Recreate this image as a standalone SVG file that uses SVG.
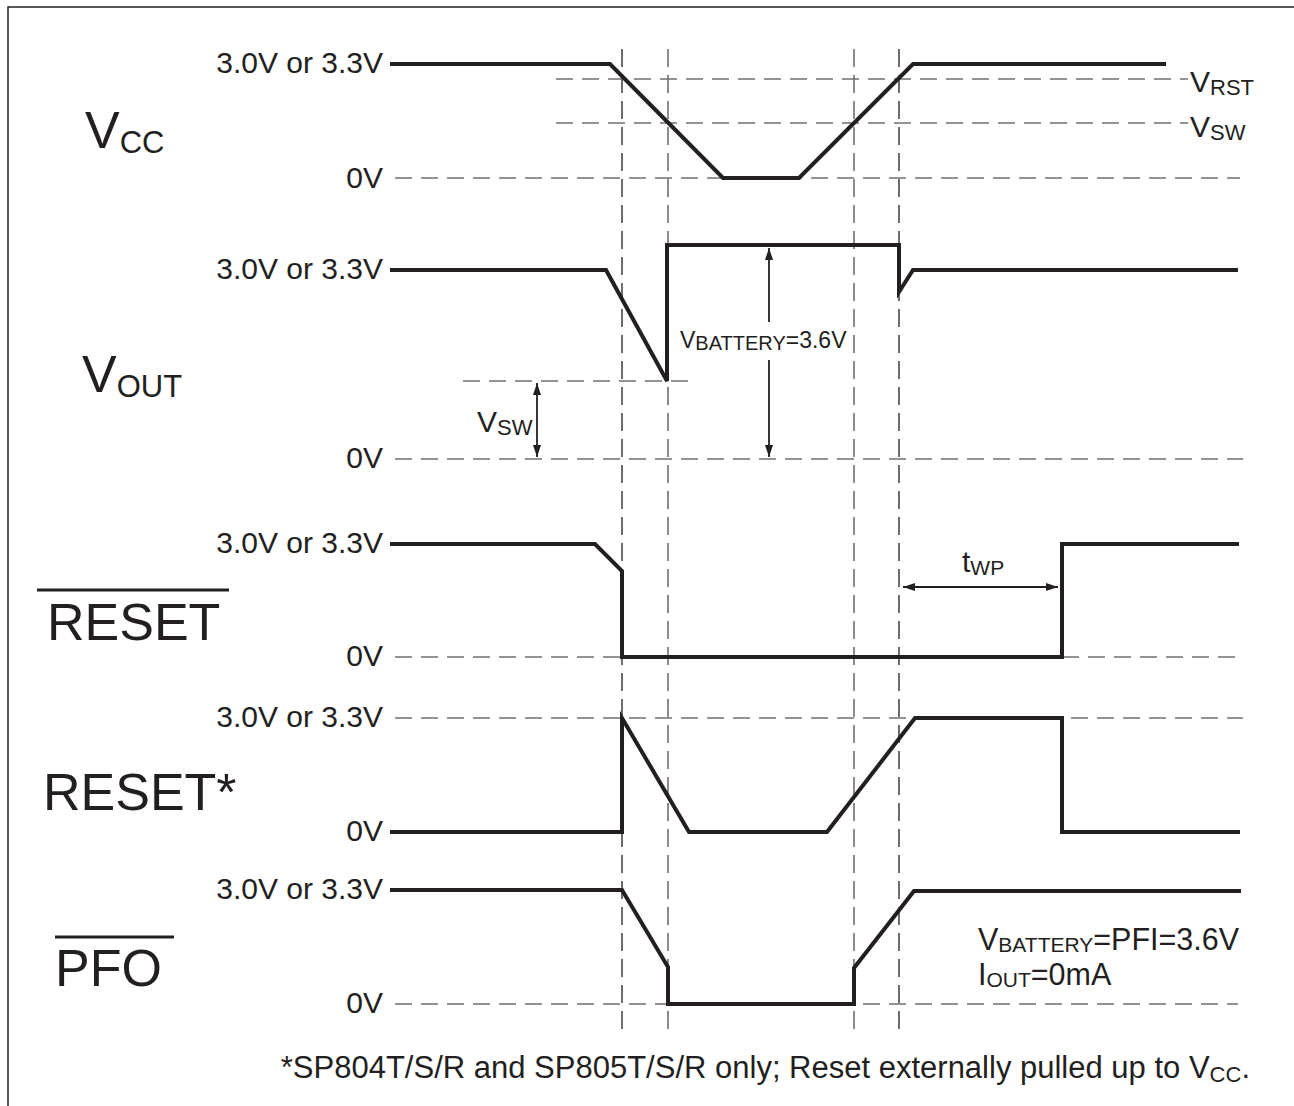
<svg xmlns="http://www.w3.org/2000/svg" width="1294" height="1106" viewBox="0 0 1294 1106">
<defs>
<marker id="ah" viewBox="0 0 12 8" refX="12" refY="4" markerWidth="12" markerHeight="8" orient="auto-start-reverse" markerUnits="userSpaceOnUse"><path d="M0,0 L12,4 L0,8 z" fill="#231f20"/></marker>
<style>
.sig{fill:none;stroke:#231f20;stroke-width:4;stroke-linejoin:miter}
.dash{fill:none;stroke:#707070;stroke-width:1.6;stroke-dasharray:17 9}
.vd{fill:none;stroke:#4a4a4a;stroke-width:1.6;stroke-dasharray:18 8}
.vl{stroke:#707070}
.t{font-family:"Liberation Sans",Arial,sans-serif;fill:#231f20}
.lv{font-size:30px;text-anchor:end}
.big{font-size:52px}
.arr{stroke:#231f20;stroke-width:1.8;fill:none}
.ol{fill:#231f20}
</style>
</defs>
<rect width="1294" height="1106" fill="#fff"/>
<path d="M8,1106 V7 H1294" stroke="#231f20" stroke-width="1.5" fill="none"/>

<g id="guides">
<path class="vd" d="M622,49 V1030"/>
<path class="vd vl" d="M668,49 V1030"/>
<path class="vd vl" d="M854,49 V1030"/>
<path class="vd" d="M899,49 V1030"/>
</g>

<g id="vcc">
<text class="t big" x="85" y="148">V<tspan font-size="31" dy="5">CC</tspan></text>
<text class="t lv" x="383" y="73">3.0V or 3.3V</text>
<text class="t lv" x="383" y="188">0V</text>
<path class="dash" d="M395,178 H1240"/>
<path class="dash" d="M556,79 H1188"/>
<path class="dash" d="M556,123 H1188"/>
<path class="sig" d="M390,64 H610 L723,178 H799 L913,64 H1166"/>
<text class="t" x="1190" y="92" font-size="30">V<tspan font-size="22" dy="3">RST</tspan></text>
<text class="t" x="1190" y="137" font-size="30">V<tspan font-size="22" dy="3">SW</tspan></text>
</g>

<g id="vout">
<text class="t big" x="82" y="392">V<tspan font-size="31" dy="5">OUT</tspan></text>
<text class="t lv" x="383" y="279">3.0V or 3.3V</text>
<text class="t lv" x="383" y="468">0V</text>
<path class="dash" d="M395,459 H1243"/>
<path class="dash" d="M463,381 H695"/>
<path class="sig" d="M390,270 H606 L667,381 V245 H899 V292 L913,270 H1238"/>
<path class="arr" d="M537,395 V383" marker-end="url(#ah)"/>
<path class="arr" d="M537,395 V457" marker-end="url(#ah)"/>
<text class="t" x="477" y="432" font-size="30">V<tspan font-size="22" dy="3">SW</tspan></text>
<path class="arr" d="M769,322 V248" marker-end="url(#ah)"/>
<path class="arr" d="M769,360 V457" marker-end="url(#ah)"/>
<text class="t" x="680" y="348" font-size="23">V<tspan font-size="20" dy="2">BATTERY</tspan><tspan dy="-2">=3.6V</tspan></text>
</g>

<g id="reset-bar">
<rect class="ol" x="37" y="588.5" width="192" height="3"/>
<text class="t big" x="47" y="640">RESET</text>
<text class="t lv" x="383" y="553">3.0V or 3.3V</text>
<text class="t lv" x="383" y="666">0V</text>
<path class="dash" d="M395,657 H622"/>
<path class="dash" d="M1062,657 H1243"/>
<path class="sig" d="M390,544 H595 L622,571 V657 H1062 V544 H1239"/>
<path class="arr" d="M980,587 H903" marker-end="url(#ah)"/>
<path class="arr" d="M980,587 H1058" marker-end="url(#ah)"/>
<text class="t" x="962" y="572" font-size="30">t<tspan font-size="21" dy="3">WP</tspan></text>
</g>

<g id="reset-star">
<text class="t big" x="43" y="810">RESET*</text>
<text class="t lv" x="383" y="727">3.0V or 3.3V</text>
<text class="t lv" x="383" y="841">0V</text>
<path class="dash" d="M395,718 H1243"/>
<path class="sig" d="M390,832 H622 V718 L689,832 H827 L915,718 H1062 V832 H1240"/>
</g>

<g id="pfo">
<rect class="ol" x="55" y="935.5" width="119" height="3"/>
<text class="t big" x="55" y="986">PFO</text>
<text class="t lv" x="383" y="899">3.0V or 3.3V</text>
<text class="t lv" x="383" y="1013">0V</text>
<path class="dash" d="M395,1004 H1238"/>
<path class="sig" d="M390,890 H622 L668,967 V1004 H854 V968 L914,891 H1241"/>
<text class="t" x="978" y="950" font-size="30.5">V<tspan font-size="21" dy="2">BATTERY</tspan><tspan dy="-2">=PFI=3.6V</tspan></text>
<text class="t" x="978" y="985" font-size="30.5">I<tspan font-size="21" dy="2">OUT</tspan><tspan dy="-2">=0mA</tspan></text>
</g>

<g id="footnote">
<text class="t" x="1250" y="1078" font-size="31" text-anchor="end">*SP804T/S/R and SP805T/S/R only; Reset externally pulled up to V<tspan font-size="22" dy="4">CC</tspan><tspan dy="-4">.</tspan></text>
</g>
</svg>
